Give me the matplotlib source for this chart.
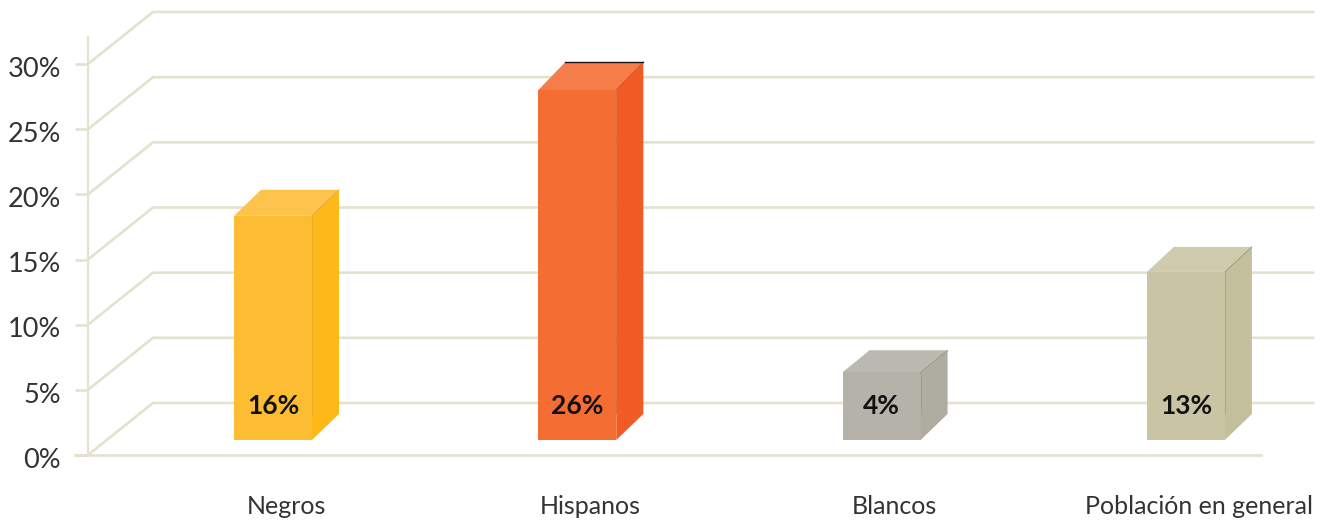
import matplotlib
matplotlib.use("Agg")
import matplotlib.pyplot as plt
from matplotlib.transforms import ScaledTranslation

categories = ["Negros", "Hispanos", "Blancos", "Población en general"]
shown_values = [16, 26, 4, 13]
drawn_heights = [17.2, 26.85, 5.2, 12.9]
y_ticks = [0, 5, 10, 15, 20, 25, 30]
y_labels = ["0%", "5%", "10%", "15%", "20%", "25%", "30%"]
front_colors = ["#FDBD33", "#F46D33", "#B5B2A9", "#C9C5A4"]
side_colors = ["#FEB918", "#F25C24", "#AFADA1", "#C3BF9C"]
top_colors = ["#FDC34D", "#F67D4A", "#BCB9B0", "#CFCBAE"]
edge_colors = ["#D9A02E", "#B8481C", "#8F8D82", "#8F8C6E"]
top_depths_px = [26, 28, 22, 25]

W, H = 1333, 521
GRID = "#E3E2CF"
plt.rcParams["font.family"] = ["Lato", "DejaVu Sans"]

fig = plt.figure(figsize=(W / 100, H / 100), dpi=100)
L, R, B, T = 88, 1261, 455, 64
ax = fig.add_axes([L / W, 1 - B / H, (R - L) / W, (B - T) / H])
ax.set_ylim(0, 30)
PX_Y = 30 / (B - T)          # data units per pixel, y
STEP = 304.3                 # pixels between categories
CENTER0 = 273                # pixel x of first bar's front centre
ax.set_xlim((L - CENTER0) / STEP, (R - CENTER0) / STEP)
PX_X = 1 / STEP
x0 = (L - CENTER0) / STEP

for s in ax.spines.values():
    s.set_visible(False)

lw = 1.9
# floor + back wall
for v in y_ticks:
    ax.plot([x0, x0 + 65 * PX_X, x0 + 1225 * PX_X], [v, v + 52 * PX_Y, v + 52 * PX_Y],
            color=GRID, lw=lw, clip_on=False, zorder=1, solid_joinstyle="miter")
ax.plot([x0 - 13 * PX_X, x0 + 1173 * PX_X], [0, 0], color=GRID, lw=lw, clip_on=False, zorder=1)
ax.plot([x0, x0], [0, 418 * PX_Y], color=GRID, lw=1.5, clip_on=False, zorder=1)

# bars
w = 78 * PX_X
dx = 27 * PX_X
floor = 15 * PX_Y
side_bottom = 26 * PX_Y
for i, h in enumerate(drawn_heights):
    xl, xr = i - w / 2, i + w / 2
    yb, yt = floor, floor + h
    d = top_depths_px[i] * PX_Y
    ax.fill([xl, xr, xr, xl], [yb, yb, yt, yt], color=front_colors[i], lw=0, zorder=3, clip_on=False)
    ax.fill([xr, xr + dx, xr + dx, xr], [yb, yb + side_bottom, yt + d, yt],
            color=side_colors[i], lw=0, zorder=3, clip_on=False)
    ax.fill([xl, xr, xr + dx, xl + dx], [yt, yt, yt + d, yt + d],
            color=top_colors[i], lw=0, zorder=3, clip_on=False)
    ax.plot([xr, xr + dx], [yt, yt + d], color=edge_colors[i], lw=0.5, zorder=4, clip_on=False)
    ax.plot([xr, xr], [yb + side_bottom, yt], color=edge_colors[i], lw=0.5, alpha=0.6, zorder=4, clip_on=False)
    if i == 1:
        ax.plot([xl + dx, xr + dx], [yt + d, yt + d], color="#1E1410", lw=1.0, zorder=4, clip_on=False)
    ax.text(i, yb + 34 * PX_Y, f"{shown_values[i]}%", ha="center", va="center",
            fontsize=19, fontweight="bold", color="#111111", zorder=5)

ax.set_yticks(y_ticks)
ax.set_yticklabels(y_labels, fontsize=19.5, color="#333333")
ax.tick_params(axis="y", length=9.4, width=lw, color=GRID, pad=10)
ax.set_xticks([i + 13 * PX_X for i in range(len(categories))])
ax.set_xticklabels(categories, fontsize=18, color="#333333")
ax.tick_params(axis="x", length=0, pad=29)
off = ScaledTranslation(0, -2 / 72, fig.dpi_scale_trans)
for t in ax.get_yticklabels():
    t.set_transform(t.get_transform() + off)

fig.savefig("out.png", dpi=100)
